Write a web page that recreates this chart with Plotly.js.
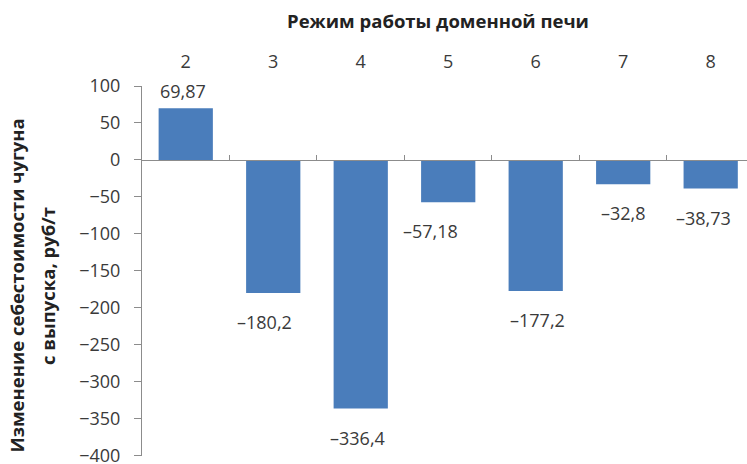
<!DOCTYPE html>
<html>
<head>
<meta charset="utf-8">
<script src="https://cdn.plot.ly/plotly-3.0.1.min.js"></script>
<style>
  html, body { margin: 0; padding: 0; background: #fff; }
  #chart { width: 747px; height: 464px; }
</style>
</head>
<body>
<div id="chart"></div>
<script>
// Blast-furnace operating modes and the change of pig-iron unit cost, rub/t
const modes = ['2', '3', '4', '5', '6', '7', '8'];
const costChange = [69.87, -180.2, -336.4, -57.18, -177.2, -32.8, -38.73];
const yTicks = [100, 50, 0, -50, -100, -150, -200, -250, -300, -350, -400];

const xTitle = 'Режим работы доменной печи';
const yTitleLines = ['Изменение себестоимости чугуна', 'с выпуска, руб/т'];

const barColor = '#4a7dbb';
const axisColor = '#8c8c8c';
const textColor = '#3a3a3a';
const FONT = 'Open Sans, Noto Sans, sans-serif';
const NUM_SIZE = 18;
const TITLE_SIZE = 18.5;

// Horizontal nudges for value labels (px)
const labelShift = [-3, -9, -3, -18, 2, 0, -7];

function fmt(v) {
  const s = String(Math.abs(v)).replace('.', ',');
  return v < 0 ? '\u2013' + s : s;
}

const bars = {
  type: 'bar',
  x: modes,
  y: costChange,
  xaxis: 'x',
  yaxis: 'y',
  marker: { color: barColor, line: { width: 0 } },
  hoverinfo: 'x+y'
};

// Invisible companion trace so the zero-line axis gets drawn
const zeroAxisCarrier = {
  type: 'scatter',
  mode: 'markers',
  x: modes,
  y: costChange,
  xaxis: 'x2',
  yaxis: 'y',
  marker: { opacity: 0 },
  hoverinfo: 'skip',
  showlegend: false
};

// Category positions are given by index so numeric-looking names stay categories
const valueLabels = costChange.map((v, i) => ({
  x: i,
  y: v,
  xref: 'x',
  yref: 'y',
  text: fmt(v),
  showarrow: false,
  yanchor: v >= 0 ? 'bottom' : 'top',
  yshift: v >= 0 ? 3 : -15,
  xshift: labelShift[i],
  font: { family: FONT, size: NUM_SIZE, color: textColor }
}));

const yTitleAnnotations = [
  { text: yTitleLines[0], x: -0.207, y: 0.46 },
  { text: yTitleLines[1], x: -0.155, y: 0.46 }
].map(a => ({
  text: a.text,
  x: a.x,
  y: a.y,
  xref: 'paper',
  yref: 'paper',
  xanchor: 'center',
  yanchor: 'middle',
  textangle: -90,
  showarrow: false,
  font: { family: FONT, size: TITLE_SIZE, color: '#222', weight: 'bold' }
}));

const layout = {
  width: 747,
  height: 464,
  margin: { l: 142, r: 0, t: 86, b: 8, pad: 0 },
  paper_bgcolor: '#fff',
  plot_bgcolor: '#fff',
  showlegend: false,
  bargap: 0.38,
  font: { family: FONT, size: NUM_SIZE, color: textColor },
  title: {
    text: xTitle,
    xref: 'container',
    yref: 'container',
    x: 438 / 747,
    xanchor: 'center',
    y: 1 - 22 / 464,
    yanchor: 'middle',
    font: { family: FONT, size: TITLE_SIZE, color: '#222', weight: 'bold' }
  },
  xaxis: {
    type: 'category',
    side: 'top',
    anchor: 'free',
    position: 1,
    range: [-0.5, 6.415],
    showline: false,
    showgrid: false,
    zeroline: false,
    ticks: '',
    ticklabelstandoff: 14,
    tickfont: { family: FONT, size: NUM_SIZE, color: textColor }
  },
  xaxis2: {
    type: 'category',
    overlaying: 'x',
    matches: 'x',
    anchor: 'free',
    position: 0.8,
    side: 'bottom',
    showline: true,
    linecolor: axisColor,
    linewidth: 1,
    showgrid: false,
    zeroline: false,
    ticks: 'inside',
    tickson: 'boundaries',
    ticklen: 5,
    tickcolor: axisColor,
    showticklabels: false
  },
  yaxis: {
    range: [-400.6, 100],
    tickvals: yTicks,
    showline: true,
    linecolor: axisColor,
    linewidth: 1,
    showgrid: false,
    zeroline: false,
    ticks: 'outside',
    ticklen: 7,
    tickcolor: axisColor,
    ticklabelstandoff: 10,
    ticklabeloverflow: 'allow',
    tickfont: { family: FONT, size: NUM_SIZE, color: textColor }
  },
  annotations: valueLabels.concat(yTitleAnnotations)
};

Plotly.newPlot('chart', [bars, zeroAxisCarrier], layout, { displayModeBar: false, staticPlot: true });
</script>
</body>
</html>
